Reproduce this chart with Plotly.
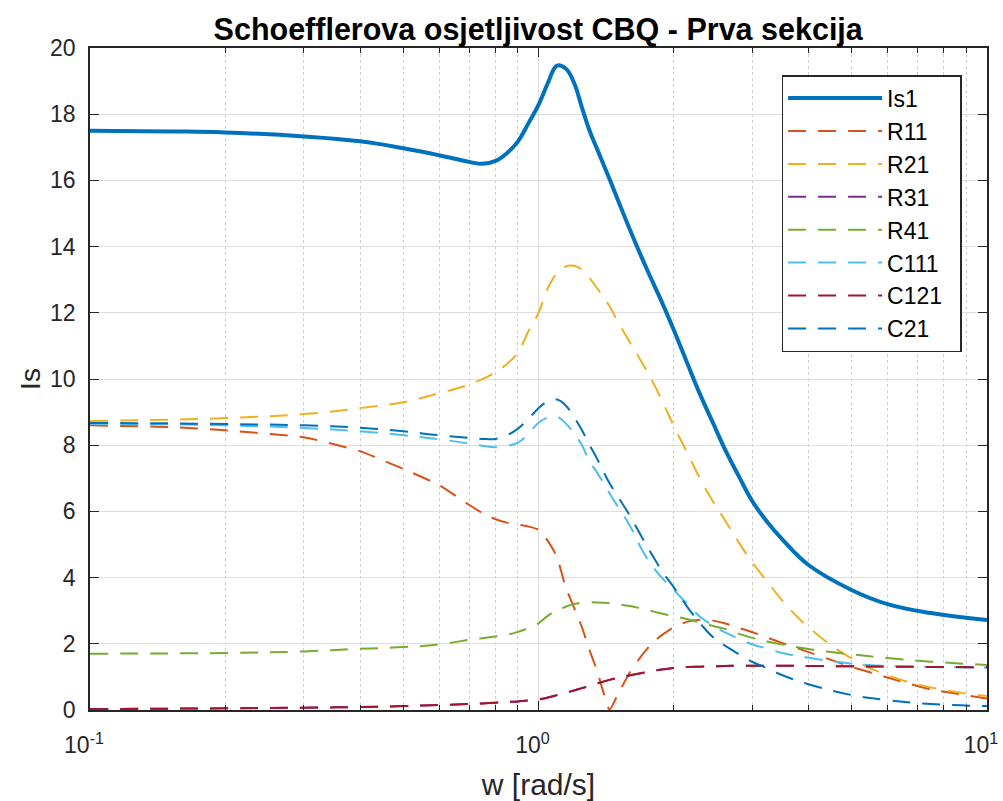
import plotly.graph_objects as go

# Frequency samples [rad/s]
w = [0.1, 0.15, 0.2, 0.3, 0.4, 0.5, 0.6, 0.7, 0.75, 0.8,
     0.85, 0.9, 0.95, 1.0, 1.05, 1.1, 1.15, 1.2, 1.25, 1.3,
     1.35, 1.44, 1.5, 1.6, 1.7, 1.8, 1.9, 2.0, 2.15, 2.3,
     2.45, 2.6, 2.8, 3.0, 3.25, 3.5, 4.0, 5.0, 6.0, 7.5, 10.0]

# Schoeffler sensitivity of the first CBQ section and of each component
is1 = [17.5, 17.48, 17.45, 17.33, 17.18, 16.97, 16.76, 16.56, 16.5, 16.58,
       16.82, 17.18, 17.73, 18.28, 18.95, 19.47, 19.38, 18.95, 18.2, 17.5,
       16.96, 16.04, 15.44, 14.5, 13.66, 12.91, 12.21, 11.5, 10.45, 9.49,
       8.67, 7.9, 7.05, 6.3, 5.65, 5.15, 4.38, 3.62, 3.2, 2.93, 2.72]
r11 = [8.6, 8.55, 8.45, 8.24, 7.82, 7.28, 6.8, 6.2, 5.95, 5.77,
       5.66, 5.6, 5.54, 5.45, 5.1, 4.62, 3.7, 3.1, 2.5, 1.8,
       1.2, 0.0, 0.45, 1.15, 1.65, 2.05, 2.3, 2.5, 2.67, 2.73,
       2.7, 2.62, 2.48, 2.35, 2.18, 2.02, 1.75, 1.3, 0.98, 0.62, 0.35]
r21 = [8.73, 8.77, 8.82, 8.94, 9.12, 9.3, 9.57, 9.83, 10.0, 10.2,
       10.45, 10.8, 11.45, 12.0, 12.75, 13.2, 13.4, 13.42, 13.3, 13.05,
       12.75, 12.2, 11.75, 11.1, 10.5, 9.9, 9.25, 8.6, 7.75, 6.95,
       6.3, 5.75, 5.05, 4.45, 3.85, 3.3, 2.5, 1.55, 1.05, 0.68, 0.42]
r31 = [0.03, 0.04, 0.05, 0.07, 0.09, 0.12, 0.15, 0.18, 0.2, 0.22,
       0.24, 0.26, 0.29, 0.32, 0.38, 0.45, 0.52, 0.59, 0.66, 0.73,
       0.8, 0.91, 0.97, 1.05, 1.12, 1.18, 1.23, 1.27, 1.3, 1.31,
       1.32, 1.33, 1.34, 1.34, 1.34, 1.34, 1.33, 1.32, 1.31, 1.3, 1.29]
r41 = [1.7, 1.71, 1.72, 1.77, 1.85, 1.9, 1.98, 2.12, 2.17, 2.22,
       2.27, 2.36, 2.48, 2.62, 2.85, 3.0, 3.12, 3.2, 3.24, 3.25,
       3.25, 3.23, 3.2, 3.14, 3.06, 2.98, 2.9, 2.84, 2.74, 2.64,
       2.54, 2.45, 2.3, 2.18, 2.06, 1.98, 1.84, 1.68, 1.57, 1.46, 1.36]
c111 = [8.65, 8.63, 8.6, 8.52, 8.42, 8.3, 8.18, 8.05, 7.98, 7.94,
        7.98, 8.08, 8.35, 8.68, 8.84, 8.86, 8.66, 8.35, 8.0, 7.5,
        7.18, 6.55, 6.16, 5.56, 4.85, 4.32, 3.94, 3.63, 3.2, 2.8,
        2.55, 2.35, 2.15, 1.98, 1.85, 1.72, 1.58, 1.4, 1.33, 1.3, 1.28]
c121 = [0.03, 0.04, 0.05, 0.07, 0.09, 0.12, 0.15, 0.18, 0.2, 0.22,
        0.24, 0.26, 0.29, 0.32, 0.38, 0.45, 0.52, 0.59, 0.66, 0.73,
        0.8, 0.91, 0.97, 1.05, 1.12, 1.18, 1.23, 1.27, 1.3, 1.31,
        1.32, 1.33, 1.34, 1.34, 1.34, 1.34, 1.33, 1.32, 1.31, 1.3, 1.29]
c21 = [8.67, 8.66, 8.64, 8.6, 8.53, 8.42, 8.3, 8.22, 8.19, 8.19,
       8.3, 8.5, 8.8, 9.12, 9.33, 9.38, 9.2, 8.85, 8.45, 8.0,
       7.6, 6.85, 6.47, 5.86, 5.22, 4.64, 4.13, 3.72, 3.1, 2.6,
       2.2, 1.95, 1.68, 1.45, 1.25, 1.05, 0.78, 0.45, 0.3, 0.18, 0.12]

x_ticks = [0.1, 1, 10]
x_ticktext = ["10<sup>-1</sup>", "10<sup>0</sup>", "10<sup>1</sup>"]
x_minor = [0.2, 0.3, 0.4, 0.5, 0.6, 0.7, 0.8, 0.9, 2, 3, 4, 5, 6, 7, 8, 9]

DASH = "18px,12px"
series = [
    ("Is1", is1, "#0072BD", "solid", 4.0),
    ("R11", r11, "#D95319", DASH, 2.0),
    ("R21", r21, "#EDB120", DASH, 2.0),
    ("R31", r31, "#7E2F8E", DASH, 2.0),
    ("R41", r41, "#77AC30", DASH, 2.0),
    ("C111", c111, "#4DBEEE", DASH, 2.0),
    ("C121\u00a0\u00a0", c121, "#A2142F", DASH, 2.0),
    ("C21", c21, "#0072BD", DASH, 2.0),
]

FONT = "Liberation Sans, Arial, sans-serif"
AXIS = "#262626"

fig = go.Figure()
for name, vals, color, dash, width in series:
    fig.add_trace(go.Scatter(
        x=w, y=vals, mode="lines", name=name,
        line=dict(color=color, width=width, dash=dash, shape="spline",
                  smoothing=0.4 if name == "R11" else 1.2),
    ))

fig.update_layout(
    width=1003, height=801,
    margin=dict(l=90, r=16, t=48, b=91),
    paper_bgcolor="white", plot_bgcolor="white",
    font=dict(family=FONT, color=AXIS, size=22),
    title=dict(text="<b>Schoefflerova osjetljivost CBQ - Prva sekcija</b>",
               x=0.5366, xanchor="center", y=0.963, yanchor="middle",
               font=dict(size=30.5, color="#000000")),
    showlegend=True,
    legend=dict(x=0.771, y=0.959, xanchor="left", yanchor="top",
                bgcolor="white", bordercolor=AXIS, borderwidth=1.5,
                font=dict(size=23, color="#000000"), itemwidth=94,
                tracegroupgap=0),
)

fig.update_xaxes(
    type="log", range=[-1, 1], automargin=False,
    tickvals=x_ticks, ticktext=x_ticktext,
    ticks="inside", ticklen=9, tickwidth=1, tickcolor=AXIS,
    showline=True, linecolor=AXIS, linewidth=1.5, mirror="ticks",
    showgrid=True, gridcolor="#dedede", gridwidth=1,
    zeroline=False, ticklabelstandoff=14, ticklabeloverflow="allow",
    ticklabelshift=-6,
    tickfont=dict(size=23),
    minor=dict(tickvals=x_minor, ticks="inside", ticklen=5, tickcolor=AXIS,
               showgrid=True, gridcolor="#cfcfcf", griddash="dot", gridwidth=1),
    title=dict(text="w [rad/s]", font=dict(size=30), standoff=18),
)
fig.update_yaxes(
    range=[0, 20], dtick=2, automargin=False,
    ticks="inside", ticklen=9, tickwidth=1, tickcolor=AXIS,
    showline=True, linecolor=AXIS, linewidth=1.5, mirror="ticks",
    showgrid=True, gridcolor="#dedede", gridwidth=1,
    zeroline=False, ticklabelstandoff=8,
    tickfont=dict(size=23),
    title=dict(text="Is", font=dict(size=28), standoff=1),
)

fig.write_html("out.html")
